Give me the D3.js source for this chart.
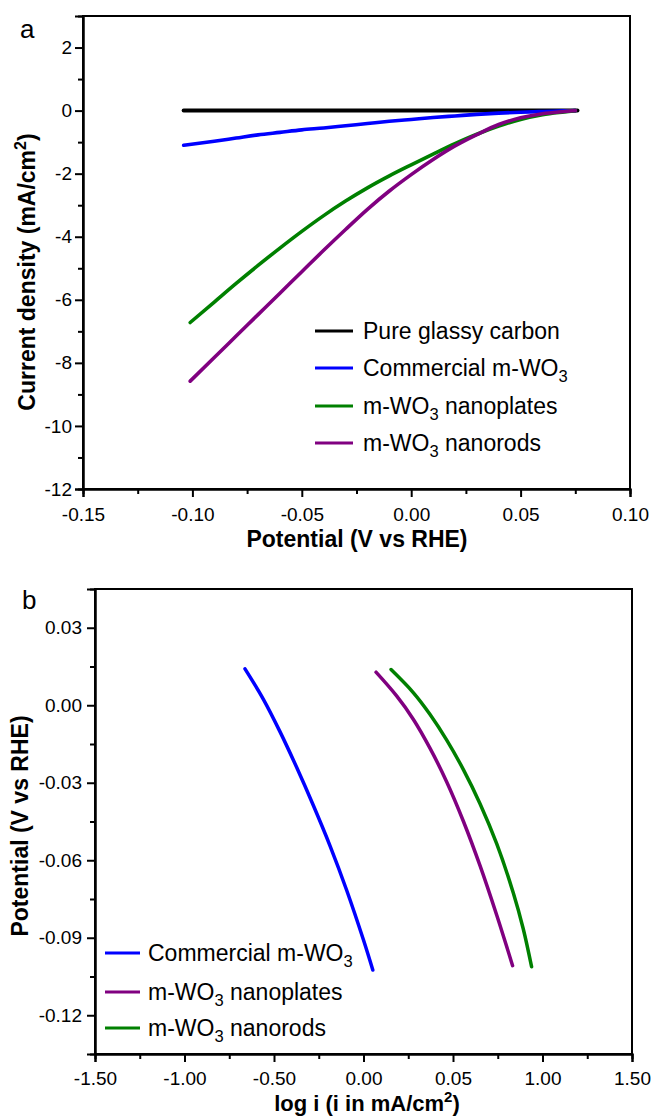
<!DOCTYPE html>
<html>
<head>
<meta charset="utf-8">
<script src="https://d3js.org/d3.v7.min.js"></script>
<style>
  html, body { margin: 0; padding: 0; background: #fff; }
  svg { display: block; }
  text { font-family: "Liberation Sans", Arial, sans-serif; fill: #000; }
</style>
</head>
<body>
<script>
// ---------- Panel a data ----------
const potentialA = [-0.101,-0.09,-0.08,-0.07,-0.06,-0.05,-0.04,-0.03,-0.02,-0.01,0.00,0.01,0.02,0.03,0.04,0.05,0.06,0.07,0.075];
const glassyX = [-0.104,-0.05,0.00,0.05,0.076];
const glassyY = [0,0,0,0,0];
const commercialX = [-0.104,-0.09,-0.08,-0.07,-0.06,-0.05,-0.04,-0.03,-0.02,-0.01,0.00,0.01,0.02,0.03,0.04,0.05,0.06,0.07,0.075];
const commercialY = [-1.10,-0.97,-0.87,-0.77,-0.69,-0.61,-0.55,-0.48,-0.41,-0.34,-0.28,-0.22,-0.17,-0.12,-0.08,-0.05,-0.03,-0.01,0];
const nanoplatesY = [-6.72,-6.07,-5.48,-4.91,-4.36,-3.83,-3.33,-2.87,-2.45,-2.07,-1.72,-1.38,-1.05,-0.75,-0.49,-0.28,-0.13,-0.04,0];
const nanorodsY = [-8.58,-7.83,-7.15,-6.47,-5.79,-5.11,-4.43,-3.77,-3.13,-2.55,-2.03,-1.55,-1.12,-0.76,-0.44,-0.23,-0.10,-0.03,0];
const xTicksA = [-0.15,-0.10,-0.05,0.00,0.05,0.10];
const xTickLabelsA = ["-0.15","-0.10","-0.05","0.00","0.05","0.10"];
const yTicksA = [2,0,-2,-4,-6,-8,-10,-12];
const yTickLabelsA = ["2","0","-2","-4","-6","-8","-10","-12"];
const xMinorA = [-0.125,-0.075,-0.025,0.025,0.075];
const yMinorA = [1,-1,-3,-5,-7,-9,-11];
const legendA = ["Pure glassy carbon","Commercial m-WO|3","m-WO|3| nanoplates","m-WO|3| nanorods"];

// ---------- Panel b data ----------
const commercialLogI = [-0.662,-0.560,-0.466,-0.373,-0.280,-0.187,-0.094,0.000,0.052];
const commercialE = [0.0141,0.0024,-0.0103,-0.0241,-0.0388,-0.0544,-0.0716,-0.0909,-0.1025];
const platesLogI = [0.070,0.185,0.278,0.372,0.465,0.558,0.651,0.744,0.833];
const platesE = [0.0128,0.0036,-0.0054,-0.0167,-0.0297,-0.0449,-0.0621,-0.0812,-0.1008];
const rodsLogI = [0.154,0.278,0.372,0.465,0.558,0.651,0.744,0.837,0.893,0.939];
const rodsE = [0.0138,0.0049,-0.0036,-0.0135,-0.0249,-0.0381,-0.0536,-0.0727,-0.0867,-0.1012];
const xTicksB = [-1.5,-1.0,-0.5,0.0,0.5,1.0,1.5];
const xTickLabelsB = ["-1.50","-1.00","-0.50","0.00","0.05","1.00","1.50"];
const yTicksB = [0.03,0.00,-0.03,-0.06,-0.09,-0.12];
const yTickLabelsB = ["0.03","0.00","-0.03","-0.06","-0.09","-0.12"];
const xMinorB = [-1.25,-0.75,-0.25,0.25,0.75,1.25];
const yMinorB = [0.015,-0.015,-0.045,-0.075,-0.105];
const legendB = ["Commercial m-WO|3","m-WO|3| nanoplates","m-WO|3| nanorods"];

const BLUE = "#0000ff", GREEN = "#008000", PURPLE = "#800080", BLACK = "#000000";

const svg = d3.select("body").append("svg").attr("width", 654).attr("height", 1118);

function zip(xs, ys) { return xs.map((x, i) => [x, ys[i]]); }

function addText(g, x, y, str, size, anchor) {
  const t = g.append("text").attr("x", x).attr("y", y).attr("font-size", size).attr("text-anchor", anchor || "start");
  const parts = str.split("|");
  parts.forEach((p, i) => {
    if (i % 2 === 1) {
      t.append("tspan").attr("font-size", size * 0.72).attr("dy", size * 0.28).text(p);
    } else {
      const ts = t.append("tspan").text(p);
      if (i > 0) ts.attr("dy", -size * 0.28);
    }
  });
  return t;
}

function drawFrame(x, y, xTicks, xLabels, yTicks, yLabels, xMinor, yMinor, xPad, yPad) {
  const g = svg.append("g");
  const [x0, x1] = x.range(), [y0, y1] = y.range();
  g.append("rect").attr("x", x0).attr("y", y1).attr("width", x1 - x0).attr("height", y0 - y1)
    .attr("fill", "none").attr("stroke", "#000").attr("stroke-width", 2);
  const ax = g.append("g").attr("transform", `translate(0,${y0})`)
    .call(d3.axisBottom(x).tickValues(xTicks).tickSize(8).tickPadding(xPad)
      .tickFormat((d, i) => xLabels[i]));
  const axm = g.append("g").attr("transform", `translate(0,${y0})`)
    .call(d3.axisBottom(x).tickValues(xMinor).tickSize(5).tickFormat(""));
  const ay = g.append("g").attr("transform", `translate(${x0},0)`)
    .call(d3.axisLeft(y).tickValues(yTicks).tickSize(8).tickPadding(yPad)
      .tickFormat((d, i) => yLabels[i]));
  const aym = g.append("g").attr("transform", `translate(${x0},0)`)
    .call(d3.axisLeft(y).tickValues(yMinor).tickSize(5).tickFormat(""));
  [ax, axm, ay, aym].forEach(a => {
    a.select(".domain").attr("stroke-width", 2);
    a.selectAll(".tick line").attr("stroke-width", 2);
    a.selectAll("text").attr("font-size", 19).attr("font-family", "Liberation Sans, Arial, sans-serif");
  });
  return g;
}

// ================= Panel a =================
const xA = d3.scaleLinear().domain([-0.15, 0.10]).range([83, 630]);
const yA = d3.scaleLinear().domain([-12, 3]).range([489, 16]);
drawFrame(xA, yA, xTicksA, xTickLabelsA, yTicksA, yTickLabelsA, xMinorA, yMinorA, 11, 3);

const lineA = d3.line().x(d => xA(d[0])).y(d => yA(d[1])).curve(d3.curveMonotoneX);
const seriesA = [
  { data: zip(glassyX, glassyY), color: BLACK, w: 4 },
  { data: zip(commercialX, commercialY), color: BLUE, w: 3.6 },
  { data: zip(potentialA, nanoplatesY), color: GREEN, w: 3.6 },
  { data: zip(potentialA, nanorodsY), color: PURPLE, w: 3.6 }
];
const gA = svg.append("g");
seriesA.forEach(s => {
  gA.append("path").attr("d", lineA(s.data)).attr("fill", "none")
    .attr("stroke", s.color).attr("stroke-width", s.w).attr("stroke-linecap", "round");
});
const legColorsA = [BLACK, BLUE, GREEN, PURPLE];
const legYA = [331, 368, 406, 443];
legendA.forEach((t, i) => {
  gA.append("line").attr("x1", 315).attr("x2", 353).attr("y1", legYA[i]).attr("y2", legYA[i])
    .attr("stroke", legColorsA[i]).attr("stroke-width", 3);
  addText(gA, 363, legYA[i] + 8, t, 23);
});
svg.append("text").attr("x", 20).attr("y", 38).attr("font-size", 26).text("a");
svg.append("text").attr("x", 357).attr("y", 547).attr("font-size", 23).attr("font-weight", "bold")
  .attr("text-anchor", "middle").text("Potential (V vs RHE)");
{
  const t = svg.append("text").attr("transform", "translate(35,272) rotate(-90)")
    .attr("font-size", 23).attr("font-weight", "bold").attr("text-anchor", "middle");
  t.append("tspan").text("Current density (mA/cm");
  t.append("tspan").attr("font-size", 16).attr("dy", -9).text("2");
  t.append("tspan").attr("dy", 9).text(")");
}

// ================= Panel b =================
const xB = d3.scaleLinear().domain([-1.5, 1.5]).range([95, 632]);
const yB = d3.scaleLinear().domain([-0.135, 0.045]).range([1054, 589]);
drawFrame(xB, yB, xTicksB, xTickLabelsB, yTicksB, yTickLabelsB, xMinorB, yMinorB, 9.5, 5);

const lineB = d3.line().x(d => xB(d[0])).y(d => yB(d[1])).curve(d3.curveCatmullRom);
const seriesB = [
  { data: zip(commercialLogI, commercialE), color: BLUE },
  { data: zip(platesLogI, platesE), color: PURPLE },
  { data: zip(rodsLogI, rodsE), color: GREEN }
];
const gB = svg.append("g");
seriesB.forEach(s => {
  gB.append("path").attr("d", lineB(s.data)).attr("fill", "none")
    .attr("stroke", s.color).attr("stroke-width", 3.5).attr("stroke-linecap", "round");
});
const legColorsB = [BLUE, PURPLE, GREEN];
const legYB = [953, 992, 1028];
legendB.forEach((t, i) => {
  gB.append("line").attr("x1", 105).attr("x2", 140).attr("y1", legYB[i]).attr("y2", legYB[i])
    .attr("stroke", legColorsB[i]).attr("stroke-width", 3);
  addText(gB, 148, legYB[i] + 8, t, 23);
});
svg.append("text").attr("x", 22).attr("y", 609).attr("font-size", 26).text("b");
{
  const t = svg.append("text").attr("x", 367).attr("y", 1111).attr("font-size", 22)
    .attr("font-weight", "bold").attr("text-anchor", "middle");
  t.append("tspan").text("log i (i in mA/cm");
  t.append("tspan").attr("font-size", 15).attr("dy", -9).text("2");
  t.append("tspan").attr("dy", 9).text(")");
}
svg.append("text").attr("transform", "translate(28,826) rotate(-90)")
  .attr("font-size", 23).attr("font-weight", "bold").attr("text-anchor", "middle")
  .text("Potential (V vs RHE)");
</script>
</body>
</html>
